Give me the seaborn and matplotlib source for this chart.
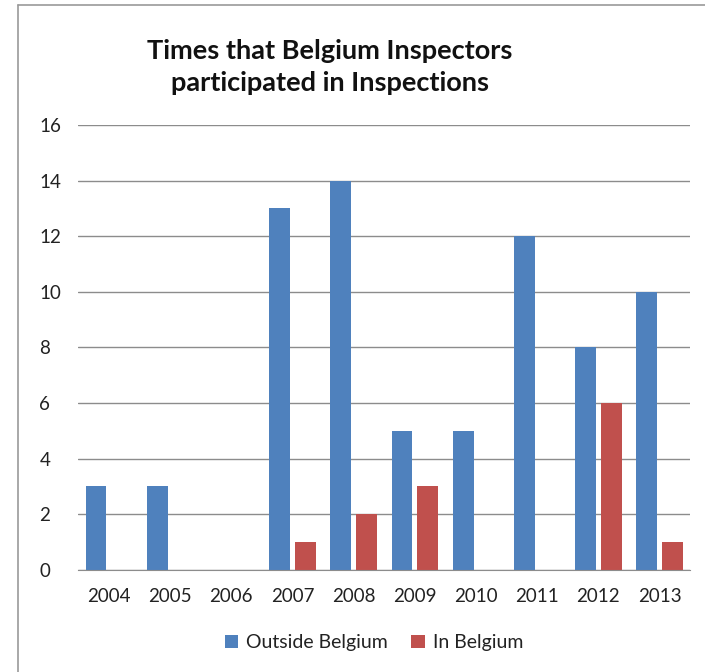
import pandas as pd
import matplotlib
matplotlib.use("Agg")
import matplotlib.pyplot as plt
from matplotlib.lines import Line2D
import seaborn as sns

# data
years = ["2004", "2005", "2006", "2007", "2008",
         "2009", "2010", "2011", "2012", "2013"]
outside_belgium = [3, 3, 0, 13, 14, 5, 5, 12, 8, 10]
in_belgium = [0, 0, 0, 1, 2, 3, 0, 0, 6, 1]
series_names = ["Outside Belgium", "In Belgium"]
series_colors = ["#4F81BD", "#C0504D"]
y_ticks = [0, 2, 4, 6, 8, 10, 12, 14, 16]

df = pd.DataFrame({
    "Year": years * 2,
    "Count": outside_belgium + in_belgium,
    "Where": [series_names[0]] * len(years) + [series_names[1]] * len(years),
})

sns.set_style("white")
plt.rcParams["font.family"] = ["Lato", "DejaVu Sans"]

fig = plt.figure(figsize=(7.05, 6.72), dpi=100)
ax = fig.add_axes([0.111, 0.152, 0.868, 0.662])

sns.barplot(data=df, x="Year", y="Count", hue="Where",
            palette=series_colors, width=0.84, gap=0.19,
            saturation=1, linewidth=0, ax=ax, legend=True)

ax.set_ylim(0, 16)
ax.set_yticks(y_ticks)
ax.set_xlim(-0.5, len(years) - 0.5)
ax.yaxis.grid(True, color="#8c8c8c", linewidth=1.0)
ax.set_axisbelow(True)
for side in ["left", "right", "top"]:
    ax.spines[side].set_visible(False)
ax.spines["bottom"].set_color("#8c8c8c")
ax.tick_params(axis="both", length=0, labelsize=13.5, colors="#222222")
ax.tick_params(axis="x", pad=13)
ax.tick_params(axis="y", pad=28)
for lbl in ax.get_yticklabels():
    lbl.set_horizontalalignment("left")
ax.set_xlabel("")
ax.set_ylabel("")

leg = ax.legend(loc="center", bbox_to_anchor=(0.483, -0.164), ncol=2,
                frameon=False, fontsize=14, handlelength=0.7,
                handleheight=0.7, handletextpad=0.4, columnspacing=1.2)
for t in leg.get_texts():
    t.set_color("#222222")

fig.text(0.468, 0.9, "Times that Belgium Inspectors\nparticipated in Inspections",
         ha="center", va="center", fontsize=19.5, fontweight="bold",
         linespacing=1.4, color="#111111")

# chart frame edges visible in the reference
fig.add_artist(Line2D([0.026, 0.026], [0.0, 0.993], transform=fig.transFigure,
                      color="#9a9a9a", linewidth=1.2))
fig.add_artist(Line2D([0.026, 1.0], [0.993, 0.993], transform=fig.transFigure,
                      color="#9a9a9a", linewidth=1.2))

fig.savefig("out.png", dpi=100, facecolor="white")
